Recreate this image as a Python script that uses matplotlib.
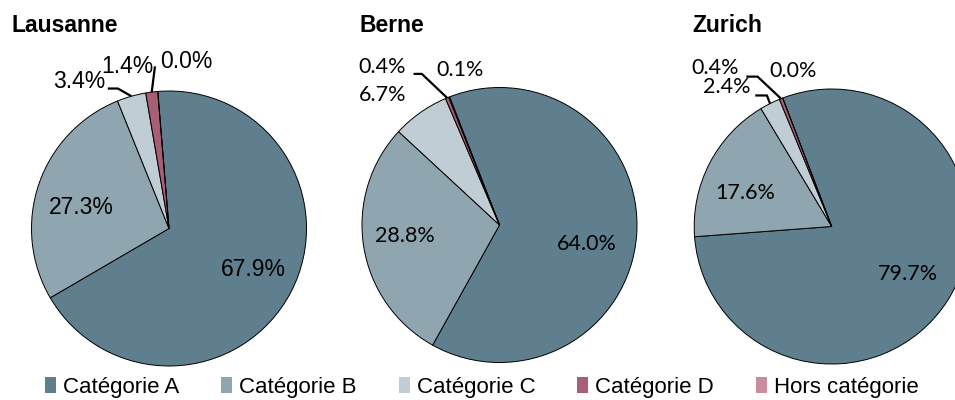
import numpy as np
import matplotlib
matplotlib.use('Agg')
from matplotlib import pyplot as plt
from matplotlib.patches import Rectangle

W, H = 955, 400

categories = ['Catégorie A', 'Catégorie B', 'Catégorie C', 'Catégorie D', 'Hors catégorie']
cities = ['Lausanne', 'Berne', 'Zurich']
lausanne = [67.9, 27.3, 3.4, 1.4, 0.0]
berne = [64.0, 28.8, 6.7, 0.4, 0.1]
zurich = [79.7, 17.6, 2.4, 0.4, 0.0]
values = [lausanne, berne, zurich]

colors = ['#5f7f8e', '#8fa6b1', '#c0cdd5', '#a85e74', '#c88e9e']

# pie centre in pixels, radius in pixels, start angle (deg, ccw from x axis)
centers = [(169, 228.5), (499.5, 225), (831.7, 226.5)]
radius = 137.5
starts = [94.7, 111.3, 110.9]
title_x = [11, 359, 692]
label_fonts = ['Liberation Sans', 'Lato', 'Lato']
label_sizes = [16.5, 15.5, 15.5]

# label positions in pie units (radius = 1); leader = list of knee points
label_pos = [
    {0: (0.613, -0.299), 1: (-0.639, 0.153), 2: (-0.650, 1.066),
     3: (-0.303, 1.175), 4: (0.124, 1.212)},
    {0: (0.634, -0.140), 1: (-0.686, -0.080), 2: (-0.851, 0.946),
     3: (-0.851, 1.152), 4: (-0.286, 1.130)},
    {0: (0.557, -0.348), 1: (-0.629, 0.243), 2: (-0.766, 1.018),
     3: (-0.849, 1.152), 4: (-0.280, 1.130)},
]
leaders = [
    {2: [(-0.445, 1.018), (-0.372, 1.018)], 3: [(-0.102, 1.179)]},
    {3: [(-0.625, 1.099), (-0.565, 1.099)]},
    {3: [(-0.621, 1.090), (-0.539, 1.090)], 2: [(-0.556, 0.953), (-0.471, 0.953)]},
]

fig = plt.figure(figsize=(W / 100, H / 100), dpi=100)

for i in range(3):
    cx, cy = centers[i]
    ax = fig.add_axes([(cx - radius) / W, (H - cy - radius) / H, 2 * radius / W, 2 * radius / H])
    wedges, _ = ax.pie(values[i], colors=colors, startangle=starts[i], counterclock=False,
                       radius=1, wedgeprops=dict(edgecolor='black', linewidth=0.7))
    ax.set_xlim(-1, 1)
    ax.set_ylim(-1, 1)
    ax.axis('off')

    for k, v in enumerate(values[i]):
        x, y = label_pos[i][k]
        ax.text(x, y, f'{v:.1f}%', ha='center', va='center', fontsize=label_sizes[i],
                family=label_fonts[i], color='black')
        if k in leaders[i]:
            w = wedges[k]
            mid = np.deg2rad((w.theta1 + w.theta2) / 2)
            pts = leaders[i][k] + [(np.cos(mid), np.sin(mid))]
            ax.plot([p[0] for p in pts], [p[1] for p in pts], color='black', lw=1.6,
                    clip_on=False, solid_capstyle='butt')

    fig.text(title_x[i] / W, 1 - 32 / H, cities[i], fontsize=16.5, fontweight='bold',
             family='Liberation Sans', va='baseline')

handles = [Rectangle((0, 0), 1, 1, facecolor=c, edgecolor='none') for c in colors]
fig.legend(handles, categories, loc='center left', bbox_to_anchor=(45 / W, 1 - 387 / H),
           ncol=5, frameon=False, prop={'family': 'Liberation Sans', 'size': 16},
           handlelength=0.5, handleheight=0.7, handletextpad=0.3, columnspacing=1.9,
           borderpad=0, borderaxespad=0)

fig.savefig('out.png', dpi=100)
